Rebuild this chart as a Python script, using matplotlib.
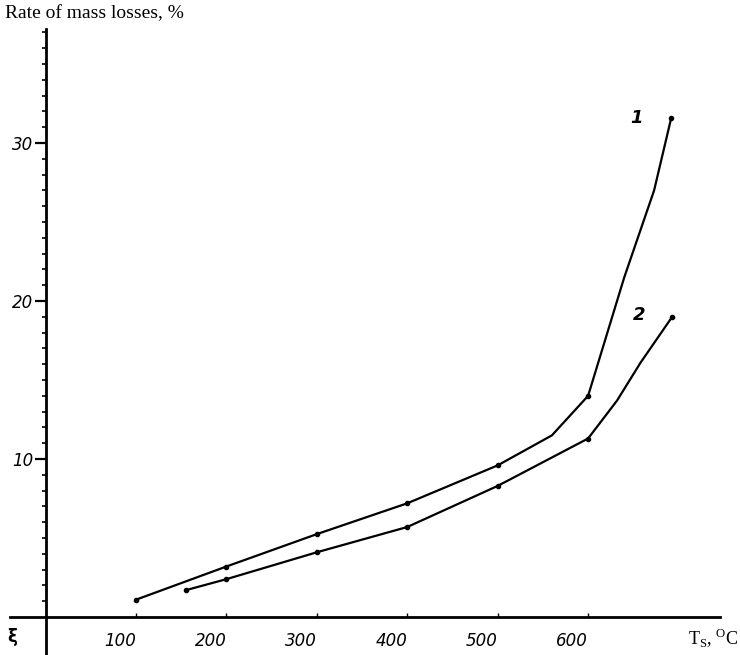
import matplotlib
matplotlib.use('Agg')
from matplotlib import pyplot as plt
from matplotlib import transforms

# curve 1
t1 = [100, 200, 300, 400, 500, 560, 600, 640, 673, 692]
m1 = [1.1, 3.2, 5.25, 7.2, 9.6, 11.5, 14.0, 21.5, 27.0, 31.6]
t1_pts = [100, 200, 300, 400, 500, 600, 692]
m1_pts = [1.1, 3.2, 5.25, 7.2, 9.6, 14.0, 31.6]

# curve 2
t2 = [155, 200, 300, 400, 500, 560, 600, 632, 658, 693]
m2 = [1.7, 2.4, 4.1, 5.7, 8.3, 10.1, 11.3, 13.7, 16.1, 19.0]
t2_pts = [155, 200, 300, 400, 500, 600, 693]
m2_pts = [1.7, 2.4, 4.1, 5.7, 8.3, 11.3, 19.0]

x_ticks = [100, 200, 300, 400, 500, 600]
y_ticks = [10, 20, 30]

plt.rcParams['mathtext.fontset'] = 'custom'
plt.rcParams['mathtext.rm'] = 'Liberation Serif'

fig = plt.figure(figsize=(7.4, 6.55), dpi=100)
ax = fig.add_axes([0, 0, 1, 1])
ax.set_xlim(-50.4, 768)
ax.set_ylim(-2.4, 39.05)

ax.plot(t1, m1, color='black', lw=1.6)
ax.plot(t2, m2, color='black', lw=1.6)
ax.plot(t1_pts, m1_pts, 'o', color='black', ms=3)
ax.plot(t2_pts, m2_pts, 'o', color='black', ms=3)

for s in ['top', 'right']:
	ax.spines[s].set_visible(False)
ax.spines['left'].set_position(('data', 0))
ax.spines['bottom'].set_position(('data', 0))
ax.spines['left'].set_bounds(-2.4, 37.2)
ax.spines['bottom'].set_bounds(-39, 746)
ax.spines['left'].set_linewidth(2)
ax.spines['bottom'].set_linewidth(2)

ax.set_yticks(y_ticks)
ax.set_yticklabels([str(v) for v in y_ticks], fontsize=12, style='italic')
ax.set_yticks(range(1, 38), minor=True)
ax.tick_params(axis='y', which='major', direction='out', length=8, width=1.6, pad=1)
ax.tick_params(axis='y', which='minor', direction='out', length=3, width=1.2)

ax.set_xticks(x_ticks)
ax.set_xticklabels([str(v) for v in x_ticks], fontsize=12, style='italic')
ax.tick_params(axis='x', which='major', direction='in', length=3, width=1, pad=11)
shift = transforms.ScaledTranslation(-0.16, 0, fig.dpi_scale_trans)
for lab in ax.get_xticklabels():
	lab.set_transform(lab.get_transform() + shift)

fig.text(5 / 740, 1 - 14 / 655, 'Rate of mass losses, %', fontsize=14,
	family='Liberation Serif', va='center', ha='left')
fig.text(738 / 740, 1 - 638 / 655, r'T$_{\mathrm{S}}$, $^{\mathrm{O}}$C', fontsize=13,
	family='Liberation Serif', va='center', ha='right')
fig.text(12 / 740, 1 - 637 / 655, 'ξ', fontsize=12, fontweight='bold', va='center', ha='center')

ax.text(654, 31.6, '1', fontsize=13, style='italic', fontweight='bold', ha='center', va='center')
ax.text(656, 19.1, '2', fontsize=13, style='italic', fontweight='bold', ha='center', va='center')

plt.savefig('out.png', dpi=100)
